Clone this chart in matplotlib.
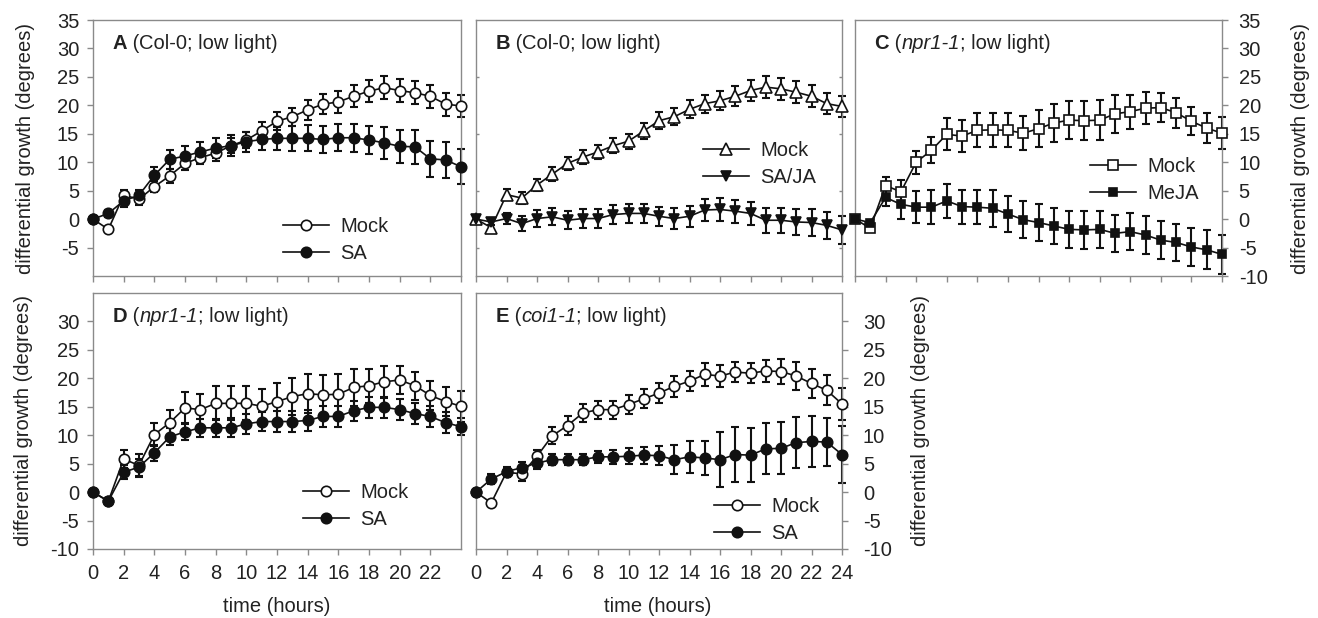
import matplotlib
matplotlib.use("Agg")
import matplotlib.pyplot as plt

plt.rcParams['font.family'] = ['Liberation Sans', 'DejaVu Sans']
plt.rcParams['axes.unicode_minus'] = False

hours = list(range(25))

# panel A (Col-0)
a_mock = [0, -1.8, 4.2, 3.5, 5.7, 7.6, 9.8, 10.8, 11.6, 12.9, 13.9, 15.5, 17.2, 18.0, 19.2,
          20.2, 20.6, 21.6, 22.5, 23.1, 22.6, 22.2, 21.6, 20.2, 19.9]
a_mock_err = [0.3, 0.5, 1.0, 1.0, 1.0, 1.2, 1.2, 1.2, 1.3, 1.3, 1.4, 1.5, 1.6, 1.6, 1.7,
              1.8, 1.9, 1.9, 2.0, 2.0, 2.0, 2.0, 2.0, 2.0, 2.0]
a_sa = [0, 1.0, 3.2, 4.2, 7.7, 10.5, 11.1, 11.8, 12.5, 12.9, 13.6, 14.0, 14.2, 14.2, 14.2,
        14.0, 14.3, 14.3, 13.9, 13.4, 12.8, 12.7, 10.6, 10.4, 9.2]
a_sa_err = [0.3, 0.6, 1.0, 1.0, 1.5, 1.7, 1.8, 1.8, 1.8, 1.8, 1.8, 1.8, 2.0, 2.2, 2.3,
            2.3, 2.4, 2.5, 2.5, 2.8, 2.9, 3.0, 3.2, 3.2, 3.1]

# panel B (Col-0)
b_mock = [0, -1.5, 4.3, 3.7, 6.0, 7.9, 9.8, 10.9, 11.8, 12.9, 13.7, 15.5, 17.3, 18.0, 19.3,
          20.3, 20.8, 21.6, 22.6, 23.2, 22.9, 22.3, 21.6, 20.3, 19.8]
b_mock_err = [0.3, 0.5, 1.0, 1.0, 1.0, 1.2, 1.2, 1.2, 1.2, 1.3, 1.3, 1.4, 1.5, 1.5, 1.6,
              1.6, 1.7, 1.8, 1.8, 1.9, 1.9, 1.9, 1.9, 1.9, 1.9]
b_sj = [0, -0.5, 0.1, -0.8, 0.1, 0.4, -0.2, 0.1, 0.1, 0.8, 1.0, 1.0, 0.5, 0.1, 0.5,
        1.6, 1.7, 1.4, 1.0, -0.2, -0.2, -0.5, -0.6, -1.1, -1.9]
b_sj_err = [0.3, 0.5, 1.0, 1.3, 1.5, 1.5, 1.6, 1.6, 1.6, 1.6, 1.6, 1.7, 1.7, 1.8, 1.8,
            1.9, 2.0, 2.0, 2.0, 2.2, 2.2, 2.3, 2.3, 2.4, 2.5]

# panel C (npr1-1)
c_mock = [0, -1.6, 5.9, 4.8, 10.0, 12.1, 14.9, 14.6, 15.6, 15.7, 15.6, 15.1, 15.9, 16.9, 17.4,
          17.3, 17.4, 18.5, 18.9, 19.5, 19.6, 18.7, 17.2, 16.0, 15.1]
c_mock_err = [0.3, 0.5, 1.5, 2.0, 2.0, 2.3, 2.8, 2.8, 3.0, 3.0, 3.0, 3.0, 3.2, 3.3, 3.4,
              3.4, 3.5, 3.3, 3.0, 2.8, 2.6, 2.6, 2.5, 2.6, 2.8]
c_meja = [0, -0.6, 3.8, 2.6, 2.1, 2.1, 3.2, 2.2, 2.1, 1.9, 0.9, -0.1, -0.6, -1.2, -1.8,
          -1.9, -1.8, -2.5, -2.2, -2.8, -3.7, -4.1, -4.9, -5.4, -6.2]
c_meja_err = [0.3, 0.5, 1.5, 2.5, 2.8, 3.0, 3.0, 3.0, 3.0, 3.2, 3.2, 3.2, 3.2, 3.2, 3.3,
              3.3, 3.3, 3.3, 3.3, 3.3, 3.3, 3.3, 3.3, 3.4, 3.4]

# panel D (npr1-1)
d_mock = [0, -1.6, 5.8, 4.7, 10.1, 12.2, 14.8, 14.5, 15.6, 15.6, 15.6, 15.1, 15.9, 16.8, 17.3,
          17.1, 17.2, 18.4, 18.7, 19.4, 19.7, 18.7, 17.0, 15.9, 15.1]
d_mock_err = [0.3, 0.5, 1.6, 2.0, 2.0, 2.3, 2.8, 2.8, 3.0, 3.0, 3.0, 3.0, 3.2, 3.3, 3.4,
              3.4, 3.5, 3.3, 3.0, 2.8, 2.5, 2.5, 2.5, 2.6, 2.7]
d_sa = [0, -1.6, 3.5, 4.4, 6.9, 9.7, 10.6, 11.3, 11.3, 11.3, 12.0, 12.4, 12.4, 12.4, 12.6,
        13.3, 13.3, 14.3, 14.9, 14.9, 14.5, 13.8, 13.3, 12.2, 11.5]
d_sa_err = [0.3, 0.5, 1.2, 1.5, 1.4, 1.5, 1.5, 1.6, 1.6, 1.7, 1.7, 1.7, 1.8, 1.8, 1.8,
            1.8, 1.8, 1.8, 1.8, 1.8, 1.8, 1.8, 1.8, 1.8, 1.5]

# panel E (coi1-1)
e_mock = [0, -1.9, 3.5, 3.2, 6.3, 9.9, 11.7, 13.9, 14.5, 14.5, 15.4, 16.4, 17.4, 18.6, 19.5,
          20.7, 20.4, 21.1, 20.9, 21.3, 21.2, 20.4, 19.1, 17.9, 15.5]
e_mock_err = [0.3, 0.5, 0.8, 1.2, 1.1, 1.5, 1.6, 1.6, 1.6, 1.6, 1.6, 1.7, 1.7, 1.8, 1.8,
              2.0, 1.9, 1.8, 1.8, 2.0, 2.2, 2.4, 2.5, 2.6, 2.8]
e_sa = [0, 2.3, 3.6, 4.3, 5.1, 5.7, 5.7, 5.7, 6.2, 6.2, 6.3, 6.5, 6.4, 5.7, 6.2,
        6.0, 5.7, 6.6, 6.5, 7.6, 7.7, 8.7, 8.9, 8.8, 6.6]
e_sa_err = [0.3, 0.8, 0.8, 1.0, 1.0, 1.0, 1.0, 1.0, 1.0, 1.2, 1.4, 1.5, 1.7, 2.5, 2.8,
            3.0, 4.8, 4.8, 4.8, 4.5, 4.6, 4.5, 4.4, 4.2, 5.0]

ylabel = "differential growth (degrees)"
spine_grey = "#8a8a8a"
txt = "#222222"
fs = 14.5

W, H = 1318, 618
fig = plt.figure(figsize=(W / 100, H / 100), dpi=100)


def make_axes(x0, x1, ytop, ybot):
    return fig.add_axes([x0 / W, 1 - ybot / H, (x1 - x0) / W, (ybot - ytop) / H])


def draw_series(ax, y, err, marker, filled, ms):
    eb = ax.errorbar(hours, y, yerr=err, fmt="none", ecolor="#111111", elinewidth=1.5,
                     capsize=3.2, capthick=1.5, zorder=2)
    for art in eb.lines[1] + eb.lines[2]:
        art.set_clip_on(False)
    line, = ax.plot(hours, y, color="#111111", lw=1.2, marker=marker, ms=ms,
                    mfc="#111111" if filled else "white", mec="#111111", mew=1.2,
                    zorder=3, clip_on=False)
    return line


def panel(ax, letter, geno, italic, mock, mock_err, trt, trt_err, trt_name,
          m_open, m_fill, ms_open, ms_fill, leg_xy):
    l1 = draw_series(ax, mock, mock_err, m_open, False, ms_open)
    l2 = draw_series(ax, trt, trt_err, m_fill, True, ms_fill)
    ax.set_xlim(0, 24)
    ax.set_ylim(-10, 35)
    ax.set_xticks(range(0, 25, 2))
    for s in ax.spines.values():
        s.set_color(spine_grey)
        s.set_linewidth(1.0)
    ax.tick_params(colors=spine_grey, labelcolor=txt, labelsize=fs,
                   length=4, width=1.0, direction="out")
    ax.tick_params(axis="x", pad=7)
    ax.tick_params(axis="y", pad=6)
    # panel title: bold letter, genotype (maybe italic), rest
    t1 = ax.text(0.053, 0.872, letter, transform=ax.transAxes, fontsize=fs,
                 fontweight="bold", color=txt, va="bottom", ha="left")
    t2 = ax.annotate(" (", xy=(1, 0), xycoords=t1, va="bottom", ha="left",
                     fontsize=fs, color=txt)
    t3 = ax.annotate(geno, xy=(1, 0), xycoords=t2, va="bottom", ha="left",
                     fontsize=fs, color=txt, style="italic" if italic else "normal")
    ax.annotate("; low light)", xy=(1, 0), xycoords=t3, va="bottom", ha="left",
                fontsize=fs, color=txt)
    ax.legend([l1, l2], ["Mock", trt_name], loc="upper left", bbox_to_anchor=leg_xy,
              frameon=False, fontsize=fs, handlelength=2.3, handletextpad=0.55,
              labelspacing=0.4, borderpad=0, borderaxespad=0, labelcolor=txt)


axA = make_axes(93, 461, 20, 276)
axB = make_axes(476, 842, 20, 276)
axC = make_axes(855, 1222, 20, 276)
axD = make_axes(93, 461, 293, 549)
axE = make_axes(476, 842, 293, 549)

panel(axA, "A", "Col-0", False, a_mock, a_mock_err, a_sa, a_sa_err, "SA",
      "o", "o", 7.5, 7.5, (0.515, 0.232))
panel(axB, "B", "Col-0", False, b_mock, b_mock_err, b_sj, b_sj_err, "SA/JA",
      "^", "v", 8, 7, (0.62, 0.528))
panel(axC, "C", "npr1-1", True, c_mock, c_mock_err, c_meja, c_meja_err, "MeJA",
      "s", "s", 7, 6, (0.64, 0.465))
panel(axD, "D", "npr1-1", True, d_mock, d_mock_err, d_sa, d_sa_err, "SA",
      "o", "o", 7.5, 7.5, (0.57, 0.257))
panel(axE, "E", "coi1-1", True, e_mock, e_mock_err, e_sa, e_sa_err, "SA",
      "o", "o", 7.5, 7.5, (0.65, 0.203))

# y ticks per panel
axA.set_yticks(range(-5, 36, 5))
axA.tick_params(labelbottom=False)
axB.set_yticks([-5, 5, 15, 25])
axB.tick_params(axis="y", left=True, right=True, direction="in", length=2.5,
                labelleft=False)
axB.tick_params(axis="x", labelbottom=False)
axC.set_yticks(range(-10, 36, 5))
axC.yaxis.tick_right()
axC.tick_params(axis="y", labelright=True, direction="out", length=4, pad=8)
axC.tick_params(axis="x", labelbottom=False)
axD.set_yticks(range(-10, 31, 5))
axD.set_xticks(range(0, 23, 2))
axE.set_yticks(range(-10, 31, 5))
axE.yaxis.tick_right()
axE.tick_params(axis="y", labelright=True, direction="out", length=4, pad=11)

# axis labels
for x, y in [(26, 148), (24, 421), (1301, 148), (920, 421)]:
    fig.text(x / W, 1 - y / H, ylabel, rotation=90, ha="center", va="center",
             fontsize=fs, color=txt)
for x in [277, 658]:
    fig.text(x / W, 1 - 607 / H, "time (hours)", ha="center", va="center",
             fontsize=fs, color=txt)

fig.savefig("out.png", dpi=100)
